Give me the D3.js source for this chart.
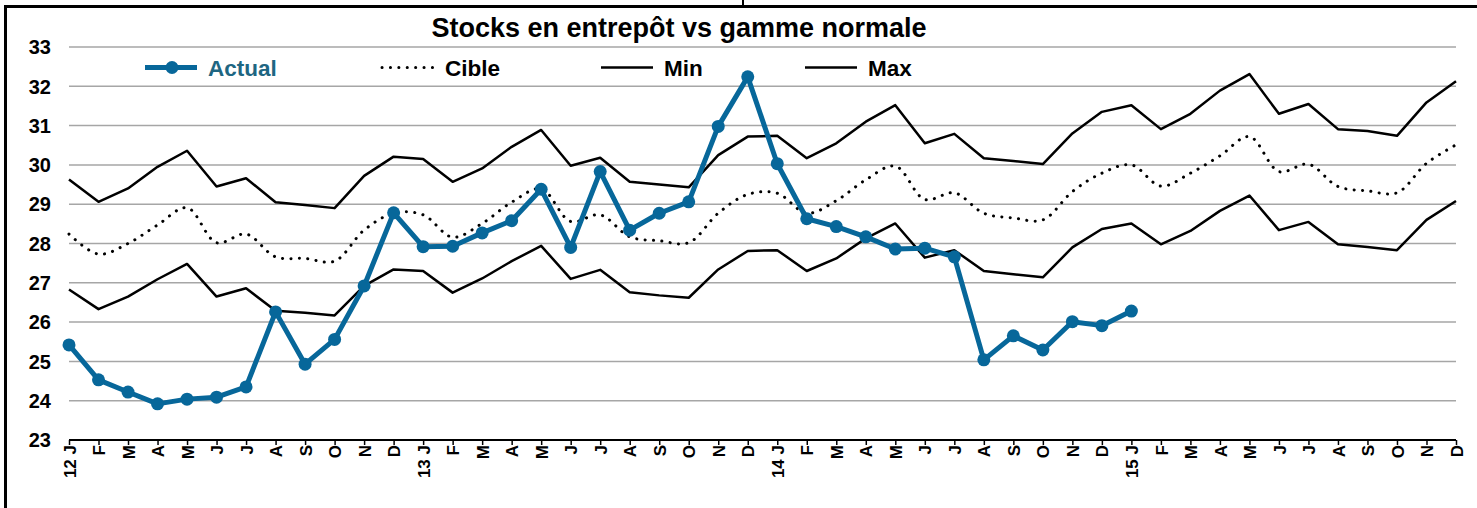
<!DOCTYPE html>
<html>
<head>
<meta charset="utf-8">
<script src="https://cdn.jsdelivr.net/npm/d3@7"></script>
<style>
  body { margin: 0; background: #fff; }
  #chart-container { width: 1477px; height: 508px; }
  text { font-family: "Liberation Sans", Arial, sans-serif; font-weight: bold; }
</style>
</head>
<body>
<div id="chart-container"></div>
<script>
const width = 1477;
const height = 508;

// month labels (year prefix on january)
const months = [
  "12 J", "F", "M", "A", "M", "J", "J", "A", "S", "O", "N", "D",
  "13 J", "F", "M", "A", "M", "J", "J", "A", "S", "O", "N", "D",
  "14 J", "F", "M", "A", "M", "J", "J", "A", "S", "O", "N", "D",
  "15 J", "F", "M", "A", "M", "J", "J", "A", "S", "O", "N", "D",
];

const actual = [
  25.42, 24.53, 24.22, 23.92, 24.04, 24.09, 24.35, 26.26, 24.93, 25.56, 26.92, 28.78,
  27.92, 27.93, 28.27, 28.58, 29.38, 27.9, 29.83, 28.34, 28.77, 29.06, 30.98, 32.24,
  30.03, 28.63, 28.43, 28.17, 27.86, 27.88, 27.66, 25.04, 25.65, 25.29, 26.01, 25.91,
  26.28,
];

const cible = [
  28.24, 27.73, 28.0, 28.47, 28.91, 28.02, 28.24, 27.66, 27.62, 27.55, 28.34, 28.77,
  28.73, 28.16, 28.51, 29.05, 29.39, 28.56, 28.73, 28.17, 28.07, 28.02, 28.77, 29.25,
  29.28, 28.77, 29.09, 29.62, 29.97, 29.12, 29.29, 28.77, 28.65, 28.6, 29.32, 29.79,
  30.0, 29.46, 29.79, 30.23, 30.72, 29.83, 30.02, 29.45, 29.34, 29.29, 30.04, 30.51,
];

const minVals = [
  26.83, 26.33, 26.65, 27.09, 27.48, 26.65, 26.86, 26.29, 26.24, 26.17, 26.92, 27.34,
  27.3, 26.75, 27.11, 27.55, 27.94, 27.1, 27.33, 26.76, 26.68, 26.62, 27.34, 27.81,
  27.83, 27.3, 27.62, 28.13, 28.51, 27.64, 27.83, 27.3, 27.22, 27.14, 27.9, 28.37,
  28.51, 27.98, 28.32, 28.83, 29.22, 28.34, 28.55, 27.98, 27.91, 27.83, 28.6, 29.08,
];

const maxVals = [
  29.63, 29.06, 29.4, 29.95, 30.36, 29.45, 29.66, 29.05, 28.98, 28.9, 29.72, 30.21,
  30.15, 29.57, 29.91, 30.46, 30.89, 29.98, 30.18, 29.57, 29.5, 29.43, 30.25, 30.72,
  30.74, 30.17, 30.55, 31.1, 31.52, 30.55, 30.79, 30.17, 30.1, 30.02, 30.8, 31.35,
  31.52, 30.91, 31.3, 31.89, 32.31, 31.3, 31.55, 30.91, 30.86, 30.74, 31.59, 32.13,
];

const yTicks = [23, 24, 25, 26, 27, 28, 29, 30, 31, 32, 33];
const title = "Stocks en entrepôt vs gamme normale";

const colorPalette = {
  actual: "#07679a",
  actualText: "#1e6682",
  line: "#000000",
  grid: "#a6a6a6",
};

const margin = { left: 69, right: 21, top: 47, bottom: 68 };

const svg = d3
  .select("#chart-container")
  .append("svg")
  .attr("width", width)
  .attr("height", height);

// cell borders like in the spreadsheet
svg.append("line").attr("x1", 4).attr("x2", width).attr("y1", 6.5).attr("y2", 6.5)
  .attr("stroke", "#000").attr("stroke-width", 3);
svg.append("line").attr("x1", 5.5).attr("x2", 5.5).attr("y1", 5).attr("y2", height)
  .attr("stroke", "#000").attr("stroke-width", 3);
svg.append("line").attr("x1", 743).attr("x2", 743).attr("y1", 0).attr("y2", 6)
  .attr("stroke", "#000").attr("stroke-width", 2);

const x = d3
  .scalePoint()
  .domain(d3.range(months.length))
  .range([margin.left, width - margin.right]);

const y = d3
  .scaleLinear()
  .domain([23, 33])
  .range([height - margin.bottom, margin.top]);

// gridlines
svg
  .append("g")
  .selectAll("line")
  .data(yTicks.slice(1))
  .enter()
  .append("line")
  .attr("x1", x(0))
  .attr("x2", x(months.length - 1))
  .attr("y1", (d) => y(d))
  .attr("y2", (d) => y(d))
  .attr("stroke", colorPalette.grid)
  .attr("stroke-width", 1.5);

// y labels
svg
  .append("g")
  .selectAll("text")
  .data(yTicks)
  .enter()
  .append("text")
  .attr("x", 51)
  .attr("y", (d) => y(d))
  .attr("dy", "0.36em")
  .attr("text-anchor", "end")
  .attr("font-size", 20)
  .text((d) => d);

// x axis
const xAxis = svg
  .append("g")
  .attr("transform", `translate(0,${y(23)})`)
  .call(
    d3.axisBottom(x)
      .tickSize(5)
      .tickFormat((i) => months[i])
  );
xAxis.select(".domain").attr("stroke", "#000").attr("stroke-width", 2)
  .attr("d", `M${x(0)},0H${x(months.length - 1)}`);
xAxis.selectAll(".tick line").attr("stroke", "#000").attr("stroke-width", 1.5);
xAxis
  .selectAll(".tick text")
  .attr("transform", "rotate(-90)")
  .attr("x", -5)
  .attr("y", 0)
  .attr("dy", "0.36em")
  .attr("text-anchor", "end")
  .attr("font-size", 17)
  .attr("font-family", '"Liberation Sans", Arial, sans-serif')
  .attr("font-weight", "bold")
  .attr("fill", "#000");

const line = d3
  .line()
  .x((d, i) => x(i))
  .y((d) => y(d));

const smoothLine = d3
  .line()
  .x((d, i) => x(i))
  .y((d) => y(d))
  .curve(d3.curveCatmullRom.alpha(0.5));

svg.append("path").datum(maxVals).attr("d", line)
  .attr("fill", "none").attr("stroke", colorPalette.line).attr("stroke-width", 2.5)
  .attr("stroke-linejoin", "round");

svg.append("path").datum(minVals).attr("d", line)
  .attr("fill", "none").attr("stroke", colorPalette.line).attr("stroke-width", 2.5)
  .attr("stroke-linejoin", "round");

svg.append("path").datum(cible).attr("d", smoothLine)
  .attr("fill", "none").attr("stroke", colorPalette.line).attr("stroke-width", 3)
  .attr("stroke-linecap", "round").attr("stroke-dasharray", "0.1 8.3");

svg.append("path").datum(actual).attr("d", line)
  .attr("fill", "none").attr("stroke", colorPalette.actual).attr("stroke-width", 5)
  .attr("stroke-linejoin", "round");

svg
  .append("g")
  .selectAll("circle")
  .data(actual)
  .enter()
  .append("circle")
  .attr("cx", (d, i) => x(i))
  .attr("cy", (d) => y(d))
  .attr("r", 6.5)
  .attr("fill", colorPalette.actual);

// title
svg
  .append("text")
  .attr("x", 679)
  .attr("y", 37)
  .attr("text-anchor", "middle")
  .attr("font-size", 27)
  .text(title);

// legend
const legendItems = [
  { name: "Actual", x0: 145, dash: null, marker: true, color: colorPalette.actual, textColor: colorPalette.actualText },
  { name: "Cible", x0: 382, dash: "0.1 8.3", marker: false, color: "#000", textColor: "#000" },
  { name: "Min", x0: 601, dash: null, marker: false, color: "#000", textColor: "#000" },
  { name: "Max", x0: 805, dash: null, marker: false, color: "#000", textColor: "#000" },
];

const legend = svg
  .append("g")
  .selectAll("g")
  .data(legendItems)
  .enter()
  .append("g")
  .attr("transform", (d) => `translate(${d.x0},67.5)`);

legend
  .append("line")
  .attr("x1", 0)
  .attr("x2", 52)
  .attr("stroke", (d) => d.color)
  .attr("stroke-width", (d) => (d.marker ? 5 : d.dash ? 3 : 2.5))
  .attr("stroke-linecap", (d) => (d.dash ? "round" : "butt"))
  .attr("stroke-dasharray", (d) => d.dash);

legend
  .filter((d) => d.marker)
  .append("circle")
  .attr("cx", 27)
  .attr("r", 6.5)
  .attr("fill", (d) => d.color);

legend
  .append("text")
  .attr("x", 63)
  .attr("dy", "0.36em")
  .attr("font-size", 22.5)
  .attr("fill", (d) => d.textColor)
  .text((d) => d.name);
</script>
</body>
</html>
